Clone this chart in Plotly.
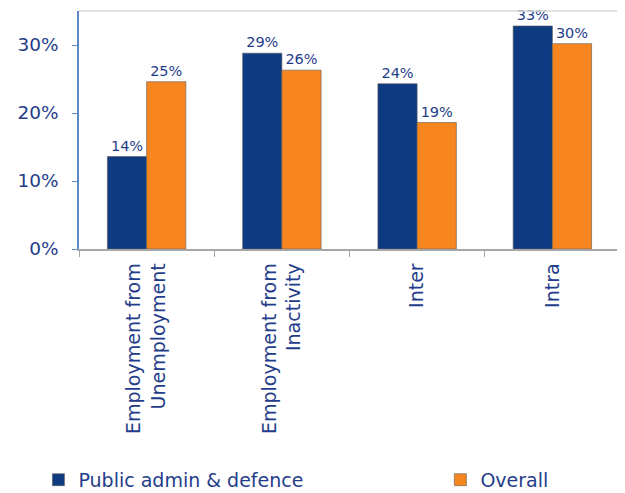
import plotly.graph_objects as go

categories = ['Employment from<br>Unemployment', 'Employment from<br>Inactivity', 'Inter', 'Intra']
public_admin = [0.136, 0.288, 0.243, 0.328]
overall = [0.246, 0.263, 0.186, 0.302]
y_ticks = [0, 0.1, 0.2, 0.3]

navy_text = '#1f3d8a'
font_family = 'DejaVu Sans'

bar_pub = go.Bar(
    x=categories, y=public_admin, name='Public admin & defence', legend='legend',
    marker=dict(color='#0e3a82', line=dict(color='rgba(90,90,90,0.6)', width=1)),
    texttemplate='%{y:.0%}', textposition='outside',
    textfont=dict(size=14.5, color=navy_text, family=font_family),
    cliponaxis=False,
)
bar_all = go.Bar(
    x=categories, y=overall, name='Overall', legend='legend2',
    marker=dict(color='#f8861e', line=dict(color='rgba(90,90,90,0.6)', width=1)),
    texttemplate='%{y:.0%}', textposition='outside',
    textfont=dict(size=14.5, color=navy_text, family=font_family),
    cliponaxis=False,
)

legend_style = dict(orientation='h', yanchor='middle', xanchor='left', y=-0.97,
                    font=dict(size=19, color=navy_text), itemwidth=30,
                    bgcolor='rgba(0,0,0,0)')

# the page puts the figure 8px in from the top-left corner
layout = go.Layout(
    width=617, height=485,
    margin=dict(l=71, r=5, t=3, b=244, autoexpand=False),
    paper_bgcolor='white', plot_bgcolor='white',
    font=dict(family=font_family, color=navy_text),
    barmode='group', bargap=0.42, bargroupgap=0,
    showlegend=True,
    legend=dict(legend_style, x=-0.075),
    legend2=dict(legend_style, x=0.668),
    xaxis=dict(showline=True, linecolor='#a6a6a6', linewidth=1.5, automargin=False,
               ticks='outside', tickson='boundaries', ticklen=6, tickcolor='#a6a6a6',
               ticklabelstandoff=5,
               tickangle=-90, tickfont=dict(size=19, color=navy_text), showgrid=False),
    yaxis=dict(range=[0, 0.35], tickvals=y_ticks, tickformat='.0%', automargin=False,
               showline=True, linecolor='#5b8ac6', linewidth=1.5,
               ticks='outside', ticklen=5, tickcolor='#5b8ac6', ticklabelstandoff=10,
               tickfont=dict(size=18.5, color=navy_text), showgrid=False, zeroline=False),
    shapes=[dict(type='line', xref='paper', yref='paper', x0=0, x1=1, y0=1, y1=1,
                 line=dict(color='#d9d9d9', width=1.5))],
)

fig = go.Figure(data=[bar_pub, bar_all], layout=layout)
fig.write_html('out.html')
